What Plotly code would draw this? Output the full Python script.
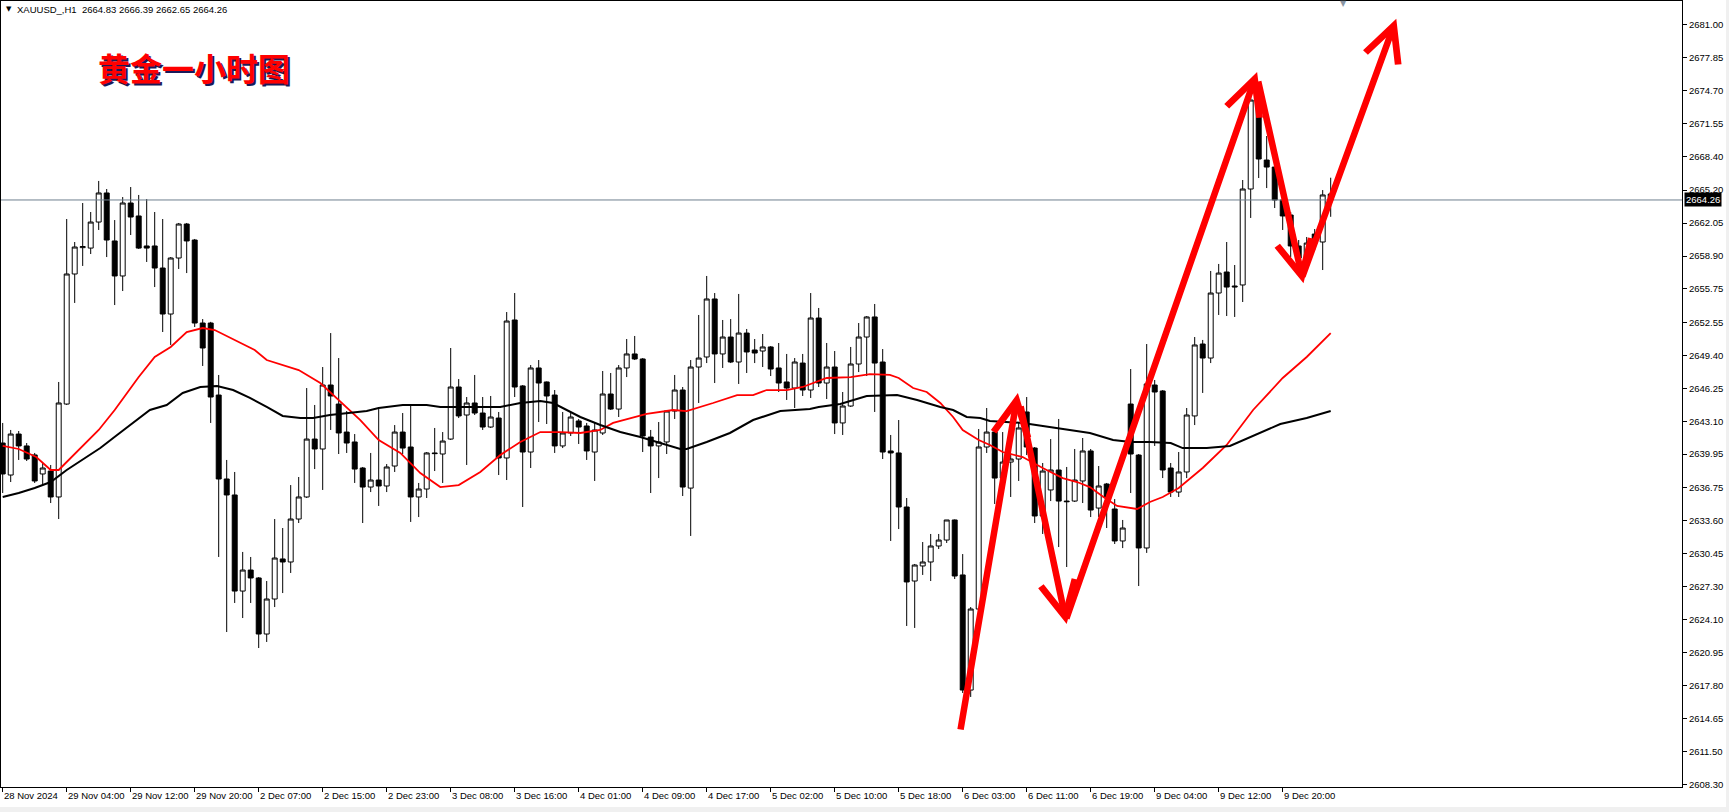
import plotly.graph_objects as go

# ---------------- data ----------------
idx = list(range(167))

open_ = [2641.01, 2637.95, 2641.87, 2640.73, 2639.87, 2638.05, 2638.33, 2635.85, 2644.74, 2657.18,
         2659.70, 2659.66, 2662.15, 2664.93, 2660.34, 2656.99, 2663.97, 2662.73, 2659.86, 2659.86,
         2657.75, 2653.35, 2658.71, 2661.96, 2660.43, 2652.49, 2652.49, 2645.60, 2637.57, 2636.04,
         2626.85, 2628.86, 2628.10, 2622.74, 2626.09, 2629.92, 2629.63, 2633.74, 2635.85, 2641.39,
         2640.44, 2646.56, 2644.74, 2642.06, 2641.11, 2638.62, 2636.80, 2637.47, 2636.90, 2638.81,
         2642.06, 2640.63, 2635.85, 2636.61, 2640.06, 2639.96, 2641.39, 2646.37, 2643.69, 2644.84,
         2643.88, 2642.54, 2643.40, 2639.58, 2652.78, 2646.47, 2640.15, 2648.19, 2646.85, 2645.60,
         2640.73, 2641.97, 2643.12, 2642.64, 2640.15, 2641.97, 2645.70, 2644.26, 2648.19, 2649.53,
         2649.05, 2641.58, 2640.73, 2641.11, 2644.07, 2646.08, 2636.70, 2648.28, 2649.24, 2654.79,
         2649.53, 2651.15, 2648.76, 2651.53, 2649.91, 2649.81, 2650.20, 2648.19, 2646.85, 2646.27,
         2648.66, 2646.08, 2652.97, 2646.75, 2648.28, 2642.93, 2644.55, 2648.57, 2651.15, 2653.07,
         2648.76, 2640.25, 2640.06, 2634.89, 2627.81, 2629.25, 2629.63, 2631.16, 2631.73, 2633.65,
         2628.39, 2617.38, 2625.13, 2640.63, 2642.06, 2637.66, 2639.19, 2639.48, 2643.98, 2640.53,
         2634.03, 2636.52, 2638.43, 2635.46, 2635.46, 2637.38, 2640.25, 2634.79, 2637.09, 2634.70,
         2631.64, 2644.74, 2639.86, 2630.97, 2646.56, 2645.99, 2638.62, 2636.32, 2638.24, 2643.60,
         2650.48, 2649.14, 2655.36, 2657.37, 2656.03, 2656.13, 2665.31, 2673.82, 2668.08, 2667.41,
         2664.26, 2662.82, 2659.86, 2658.71, 2661.00, 2660.24, 2664.83]

high = [2642.93, 2642.26, 2642.16, 2641.01, 2640.06, 2639.10, 2638.91, 2646.85, 2662.44, 2660.24,
        2663.97, 2663.11, 2666.08, 2665.31, 2662.34, 2664.54, 2665.50, 2664.74, 2664.35, 2663.11,
        2662.44, 2658.80, 2662.06, 2662.06, 2660.53, 2652.87, 2652.60, 2647.52, 2639.39, 2638.24,
        2630.59, 2630.11, 2628.19, 2627.81, 2633.74, 2632.88, 2636.99, 2637.76, 2646.27, 2644.65,
        2648.28, 2651.53, 2649.14, 2644.07, 2641.87, 2638.72, 2640.06, 2644.26, 2639.00, 2642.73,
        2643.88, 2644.65, 2637.19, 2640.15, 2642.45, 2642.06, 2650.10, 2647.13, 2645.41, 2647.52,
        2645.41, 2645.51, 2643.98, 2653.54, 2655.36, 2646.56, 2648.47, 2648.95, 2646.90, 2646.08,
        2643.98, 2643.88, 2643.31, 2642.93, 2642.93, 2647.90, 2647.71, 2648.47, 2650.96, 2651.25,
        2649.14, 2642.26, 2643.02, 2644.17, 2647.52, 2646.37, 2648.95, 2653.26, 2656.99, 2655.36,
        2652.78, 2652.87, 2655.27, 2651.92, 2650.96, 2651.44, 2650.29, 2650.58, 2649.53, 2649.14,
        2649.53, 2655.36, 2653.93, 2650.58, 2649.81, 2645.89, 2650.20, 2652.49, 2653.16, 2654.31,
        2650.00, 2641.78, 2643.21, 2635.75, 2629.44, 2631.54, 2632.31, 2632.31, 2633.65, 2633.70,
        2630.39, 2625.32, 2642.35, 2644.36, 2642.26, 2642.06, 2640.06, 2642.93, 2645.41, 2640.63,
        2639.10, 2641.39, 2643.31, 2638.72, 2640.44, 2641.49, 2640.44, 2638.81, 2637.19, 2635.65,
        2633.65, 2648.09, 2639.96, 2650.48, 2647.04, 2646.08, 2639.10, 2640.15, 2644.36, 2651.15,
        2650.87, 2657.47, 2658.14, 2660.24, 2658.04, 2666.17, 2674.11, 2674.30, 2670.38, 2667.50,
        2664.45, 2663.11, 2660.43, 2660.72, 2661.48, 2665.21, 2666.39]

low = [2636.23, 2637.28, 2639.39, 2639.29, 2637.19, 2636.99, 2635.27, 2633.74, 2644.65, 2654.41,
       2657.95, 2659.09, 2661.39, 2658.80, 2654.21, 2655.55, 2660.91, 2659.57, 2658.33, 2655.93,
       2651.63, 2650.39, 2657.66, 2657.27, 2652.11, 2648.38, 2642.93, 2630.11, 2622.93, 2625.71,
       2624.27, 2625.71, 2621.40, 2621.98, 2625.32, 2626.66, 2628.58, 2633.36, 2635.75, 2638.52,
       2636.52, 2642.26, 2639.96, 2640.06, 2637.19, 2633.36, 2636.32, 2634.99, 2636.32, 2638.24,
       2639.96, 2633.46, 2633.93, 2635.75, 2638.33, 2637.19, 2641.30, 2643.40, 2638.91, 2643.69,
       2642.26, 2642.45, 2637.95, 2637.47, 2645.41, 2634.89, 2638.62, 2643.02, 2642.83, 2640.06,
       2640.53, 2641.68, 2640.92, 2639.39, 2637.38, 2641.78, 2644.17, 2643.50, 2647.32, 2648.95,
       2640.15, 2636.23, 2637.66, 2639.96, 2643.31, 2635.94, 2632.12, 2644.84, 2648.66, 2646.75,
       2648.19, 2648.66, 2646.66, 2647.71, 2648.66, 2648.28, 2647.42, 2645.89, 2645.13, 2644.36,
       2645.51, 2645.32, 2646.37, 2645.22, 2641.87, 2641.78, 2644.46, 2647.80, 2647.42, 2643.98,
       2639.48, 2631.64, 2632.78, 2623.51, 2623.32, 2628.39, 2627.81, 2630.87, 2631.45, 2628.00,
       2617.10, 2616.72, 2624.90, 2640.06, 2635.18, 2636.99, 2635.85, 2637.38, 2639.86, 2633.36,
       2632.31, 2635.46, 2631.06, 2629.15, 2635.37, 2635.27, 2633.93, 2633.93, 2632.88, 2631.35,
       2630.96, 2636.23, 2627.33, 2630.50, 2640.73, 2637.66, 2635.85, 2635.85, 2637.66, 2642.73,
       2645.80, 2648.66, 2653.26, 2653.16, 2653.07, 2654.50, 2662.54, 2666.36, 2665.40, 2663.49,
       2661.39, 2658.80, 2657.08, 2658.33, 2659.47, 2657.56, 2662.65]

close = [2638.05, 2641.87, 2640.73, 2639.48, 2637.38, 2638.62, 2635.85, 2644.84, 2657.18, 2659.76,
         2659.80, 2662.15, 2664.93, 2660.43, 2656.99, 2663.97, 2662.63, 2659.66, 2659.66, 2657.75,
         2653.35, 2658.71, 2661.96, 2660.34, 2652.49, 2650.10, 2645.41, 2637.57, 2636.04, 2626.85,
         2628.86, 2628.10, 2622.74, 2626.09, 2630.01, 2629.63, 2633.74, 2635.85, 2641.39, 2640.44,
         2646.56, 2645.51, 2641.97, 2641.01, 2638.52, 2636.80, 2637.47, 2636.90, 2638.72, 2642.06,
         2640.53, 2635.85, 2636.61, 2640.06, 2640.00, 2641.20, 2646.37, 2643.60, 2644.84, 2643.88,
         2642.54, 2643.50, 2639.58, 2652.68, 2646.37, 2640.15, 2648.19, 2646.75, 2645.51, 2640.73,
         2641.97, 2643.50, 2642.54, 2640.25, 2642.26, 2645.70, 2644.26, 2648.19, 2649.53, 2649.05,
         2641.68, 2640.73, 2641.11, 2644.07, 2646.08, 2636.80, 2648.28, 2649.14, 2654.79, 2649.53,
         2651.15, 2648.76, 2651.53, 2649.72, 2649.62, 2650.20, 2648.09, 2646.75, 2646.27, 2648.76,
         2646.08, 2652.97, 2646.75, 2648.28, 2642.93, 2644.55, 2648.57, 2651.15, 2653.07, 2648.66,
         2640.15, 2640.06, 2634.89, 2627.72, 2629.34, 2629.63, 2631.16, 2631.73, 2633.65, 2628.29,
         2617.38, 2625.13, 2640.63, 2642.06, 2637.66, 2639.19, 2639.48, 2642.45, 2640.63, 2634.03,
         2638.33, 2638.43, 2635.46, 2635.40, 2637.47, 2640.25, 2634.60, 2636.90, 2635.85, 2631.64,
         2632.88, 2639.96, 2630.97, 2646.66, 2645.89, 2638.43, 2636.32, 2638.24, 2643.69, 2650.39,
         2649.14, 2655.36, 2657.27, 2655.93, 2655.95, 2665.31, 2673.82, 2668.18, 2667.41, 2664.26,
         2662.73, 2659.86, 2658.71, 2660.14, 2660.24, 2664.74, 2664.26]

# moving averages (bar index, price)
red_idx = [0, 2, 4.2, 6, 7, 9.5, 12, 14, 17, 19, 21, 23, 25, 26.5, 29, 31.5, 33, 35, 37, 39.7,
           42, 44.7, 47, 49.7, 52.2, 54.7, 57, 59.7, 62.2, 64.7, 67.2, 69.7, 72.2, 74.7, 76.3,
           80.5, 83.8, 85.5, 88.8, 91.8, 93.8, 95.5, 98, 100, 103, 106, 108.4, 110.9, 112, 113.8,
           115.5, 117.2, 118.8, 120, 122, 123.4, 125, 127.5, 130, 132.5, 134.3, 135.9, 137.6,
           139.3, 141.8, 143.4, 145, 147, 150, 153, 156.3, 160, 163, 166]
red_val = [2640.73, 2640.44, 2639.67, 2638.43, 2638.43, 2640.34, 2642.26, 2644.17, 2647.32, 2649.24,
           2650.20, 2651.63, 2652.01, 2651.82, 2650.87, 2649.91, 2648.95, 2648.47, 2647.99, 2646.75,
           2645.13, 2643.21, 2641.30, 2640.06, 2638.14, 2636.80, 2636.99, 2638.24, 2639.87, 2641.11,
           2642.06, 2642.06, 2641.97, 2642.26, 2642.93, 2643.79, 2644.17, 2644.07, 2644.84, 2645.60,
           2645.60, 2646.08, 2646.08, 2646.37, 2647.23, 2647.32, 2647.61, 2647.52, 2647.23, 2646.27,
           2645.89, 2644.84, 2643.50, 2642.26, 2641.30, 2640.82, 2640.15, 2639.67, 2638.62, 2637.66,
           2637.28, 2636.80, 2635.85, 2634.99, 2634.70, 2635.37, 2635.85, 2636.71, 2638.62, 2640.82,
           2644.17, 2647.23, 2649.24, 2651.53]

blk_idx = [0, 2, 4, 6, 8, 10, 12.2, 14.3, 16.3, 18.4, 20.5, 22.5, 24.7, 26.8, 28.8, 30.9, 33, 35,
           37.2, 38.8, 40.9, 43, 45.5, 47, 50, 53, 54.7, 58, 62.2, 64.7, 67.2, 68.8, 71.3, 72.2,
           74.7, 77.2, 79.7, 82.2, 84.7, 85.5, 88, 90.9, 93.8, 97.2, 100.9, 102, 104.7, 108, 111.8,
           114.3, 117.2, 118.8, 120.5, 122.2, 123.4, 127.5, 131.8, 135.9, 138.8, 141, 143.4, 146,
           147.5, 150.5, 153.4, 156, 159.7, 163, 166]
blk_val = [2635.85, 2636.23, 2636.71, 2637.28, 2638.43, 2639.39, 2640.53, 2641.78, 2642.93, 2644.17,
           2644.65, 2645.80, 2646.37, 2646.47, 2646.08, 2645.32, 2644.46, 2643.60, 2643.40, 2643.40,
           2643.69, 2643.88, 2644.07, 2644.36, 2644.65, 2644.65, 2644.46, 2644.46, 2644.46, 2644.84,
           2645.03, 2644.84, 2643.88, 2643.50, 2642.73, 2642.06, 2641.59, 2641.01, 2640.44, 2640.44,
           2641.11, 2641.97, 2643.21, 2644.07, 2644.26, 2644.46, 2644.74, 2645.51, 2645.60, 2645.13,
           2644.46, 2644.17, 2643.50, 2643.40, 2643.12, 2642.93, 2642.45, 2641.97, 2641.30, 2641.11,
           2641.11, 2641.01, 2640.53, 2640.53, 2640.73, 2641.59, 2642.83, 2643.40, 2644.07]

# x-axis labels (every 8 bars)
tick_idx = list(range(0, 161, 8))
tick_text = ["28 Nov 2024", "29 Nov 04:00", "29 Nov 12:00", "29 Nov 20:00", "2 Dec 07:00",
             "2 Dec 15:00", "2 Dec 23:00", "3 Dec 08:00", "3 Dec 16:00", "4 Dec 01:00",
             "4 Dec 09:00", "4 Dec 17:00", "5 Dec 02:00", "5 Dec 10:00", "5 Dec 18:00",
             "6 Dec 03:00", "6 Dec 11:00", "6 Dec 19:00", "9 Dec 04:00", "9 Dec 12:00",
             "9 Dec 20:00"]

y_ticks = [2608.30, 2611.50, 2614.65, 2617.80, 2620.95, 2624.10, 2627.30, 2630.45, 2633.60,
           2636.75, 2639.95, 2643.10, 2646.25, 2649.40, 2652.55, 2655.75, 2658.90, 2662.05,
           2665.20, 2668.40, 2671.55, 2674.70, 2677.85, 2681.00]

current_price = 2664.26
symbol_text = "XAUUSD_,H1\u00a0\u00a02664.83 2666.39 2662.65 2664.26"
title_text = "黄金一小时图"

# hand-drawn arrows (start bar, start price) -> (end bar, end price)
arrow_sx = [119.7, 127.2, 132.9, 156.9, 162.4]
arrow_sy = [2613.46, 2644.65, 2624.08, 2675.74, 2656.80]
arrow_ex = [126.9, 133.0, 156.8, 162.6, 174.2]
arrow_ey = [2645.80, 2623.70, 2676.50, 2656.30, 2681.60]

# ---------------- figure ----------------
W, H = 1729, 812
ML, MR, MT, MB = 1, 47, 1, 25
FONT = "Liberation Sans, Arial, sans-serif"

fig = go.Figure()
fig.add_trace(go.Candlestick(
    x=idx, open=open_, high=high, low=low, close=close,
    increasing=dict(fillcolor="white", line=dict(color="black", width=1)),
    decreasing=dict(fillcolor="black", line=dict(color="black", width=1)),
    whiskerwidth=0, hoverinfo="skip", showlegend=False))
fig.add_trace(go.Scatter(x=red_idx, y=red_val, mode="lines",
                         line=dict(color="#ff0000", width=1.8), hoverinfo="skip", showlegend=False))
fig.add_trace(go.Scatter(x=blk_idx, y=blk_val, mode="lines",
                         line=dict(color="#000000", width=2), hoverinfo="skip", showlegend=False))

# current price line
fig.add_shape(type="line", xref="paper", x0=0, x1=1, yref="y", y0=current_price, y1=current_price,
              line=dict(color="#6f7f8f", width=1), layer="above")

annotations = []
# x labels, left aligned at tick like MT4
for t, s in zip(tick_idx, tick_text):
    annotations.append(dict(x=t, xref="x", y=0, yref="paper", yanchor="top", xanchor="left",
                            yshift=-1, xshift=-1, text=s, showarrow=False,
                            font=dict(family=FONT, size=9.5, color="black")))
# current price box
annotations.append(dict(x=1, xref="paper", y=current_price, yref="y", xanchor="left",
                        yanchor="middle", xshift=2, text=f"{current_price:.2f}", showarrow=False,
                        bgcolor="black", borderpad=1,
                        font=dict(family=FONT, size=9.5, color="white")))
# header
annotations.append(dict(x=0, xref="paper", y=(H - MB - 9.5) / (H - MT - MB), yref="paper",
                        xanchor="left", yanchor="middle", xshift=3, text="▼", showarrow=False,
                        font=dict(family="DejaVu Sans", size=7, color="black")))
annotations.append(dict(x=0, xref="paper", y=(H - MB - 9.5) / (H - MT - MB), yref="paper",
                        xanchor="left", yanchor="middle", xshift=14, text=symbol_text,
                        showarrow=False, font=dict(family=FONT, size=9.5, color="black")))
# chart-shift marker
annotations.append(dict(x=(1343 - ML) / (W - ML - MR), xref="paper",
                        y=(H - MB - 4) / (H - MT - MB), yref="paper",
                        xanchor="center", yanchor="middle", text="▼", showarrow=False,
                        font=dict(family="DejaVu Sans", size=8, color="#8a96a3")))
# Chinese title with dark shadow
ty = (H - MB - 67) / (H - MT - MB)
tx = (96 - ML) / (W - ML - MR)
annotations.append(dict(x=tx, xref="paper", y=ty, yref="paper", xanchor="left", yanchor="middle",
                        xshift=1.5, yshift=-1.5, text=f"<b>{title_text}</b>", showarrow=False,
                        font=dict(family="Noto Sans CJK SC", size=32, color="#1a1a5a")))
annotations.append(dict(x=tx, xref="paper", y=ty, yref="paper", xanchor="left", yanchor="middle",
                        text=f"<b>{title_text}</b>", showarrow=False,
                        font=dict(family="Noto Sans CJK SC", size=32, color="#ff0000")))
# arrows
for sx, sy, ex, ey in zip(arrow_sx, arrow_sy, arrow_ex, arrow_ey):
    annotations.append(dict(x=ex, y=ey, xref="x", yref="y", ax=sx, ay=sy, axref="x", ayref="y",
                            text="", showarrow=True, arrowhead=5, arrowsize=1.05, arrowwidth=6.5,
                            arrowcolor="#ff0000", standoff=0, startstandoff=0))

# bottom/right window strips
fig.add_shape(type="rect", xref="paper", yref="paper",
              x0=-ML / (W - ML - MR), x1=(W - ML) / (W - ML - MR),
              y0=-(812 - 787) / (H - MT - MB), y1=-(807 - 787) / (H - MT - MB),
              fillcolor="#f0f0f0", line=dict(width=0), layer="below")
fig.add_shape(type="rect", xref="paper", yref="paper",
              x0=(1726 - ML) / (W - ML - MR), x1=(W - ML) / (W - ML - MR),
              y0=-(812 - 787) / (H - MT - MB), y1=787 / (H - MT - MB),
              fillcolor="#f0f0f0", line=dict(width=0), layer="below")

x0 = (ML - 2.7) / 8.0
x1 = (W - MR - 2.7) / 8.0
p = lambda y: 2683.39 - 0.09566 * y

fig.update_layout(
    width=W, height=H, margin=dict(l=ML, r=MR, t=MT, b=MB, pad=0),
    paper_bgcolor="white", plot_bgcolor="white",
    font=dict(family=FONT, size=9.5, color="black"),
    showlegend=False, boxgap=0.38, boxgroupgap=0,
    annotations=annotations,
    xaxis=dict(range=[x0, x1], tickvals=tick_idx, ticks="outside", ticklen=4, tickcolor="black",
               showticklabels=False, showgrid=False, zeroline=False, showline=True, mirror=True,
               linecolor="black", linewidth=1, rangeslider=dict(visible=False), fixedrange=True),
    yaxis=dict(side="right", range=[p(787), p(1)], tickvals=y_ticks,
               ticktext=[f"{v:.2f}" for v in y_ticks], ticks="outside", ticklen=4,
               tickcolor="black", showgrid=False, zeroline=False, showline=True, mirror=True,
               linecolor="black", linewidth=1, tickfont=dict(family=FONT, size=9.5, color="black"),
               fixedrange=True),
)

fig.write_html("out.html", config={"displayModeBar": False},
               post_script="document.body.style.margin='0';document.body.style.overflow='hidden';")
